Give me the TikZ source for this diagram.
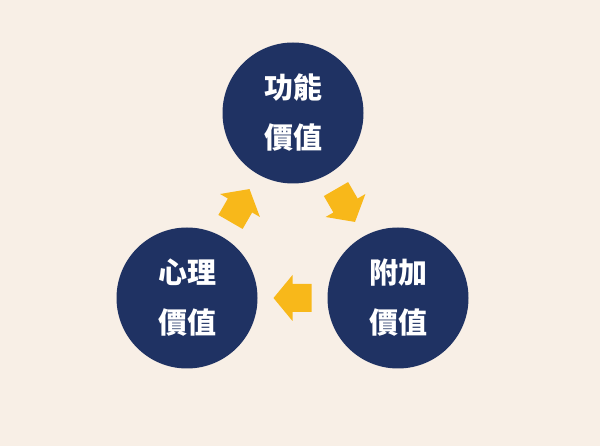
\documentclass[tikz,border=0pt]{standalone}
\usepackage{fontspec}
\newfontfamily\cjk{Noto Sans CJK TC}
\usetikzlibrary{calc}
\definecolor{bgcream}{HTML}{F8EFE6}
\definecolor{navyblue}{HTML}{1F3263}
\definecolor{cycleyellow}{HTML}{F8B81A}
\begin{document}
\begin{tikzpicture}[x=1pt,y=-1pt,
  valuecircle/.style={circle, fill=navyblue, minimum size=141pt, inner sep=0pt,
    text=white, align=center, font=\cjk\bfseries\fontsize{29}{50}\selectfont},
  cyclearrow/.pic={\fill[cycleyellow] (19,0) -- (0,23) -- (0,14) -- (-19,14) -- (-19,-14) -- (0,-14) -- (0,-23) -- cycle;}]
\fill[bgcream] (0,0) rectangle (600,446);
\useasboundingbox (0,0) rectangle (600,446);
\node[valuecircle] (func) at (293,113) {功能\\價值};
\node[valuecircle] (psy) at (187,298) {心理\\價值};
\node[valuecircle] (add) at (398,298) {附加\\價值};
\coordinate (m1) at ($(func)!0.5!(add)$);
\coordinate (m2) at ($(add)!0.5!(psy)$);
\coordinate (m3) at ($(psy)!0.5!(func)$);
\pic[rotate=-60] (a1) at (m1) {cyclearrow};
\pic[rotate=180] (a2) at (m2) {cyclearrow};
\pic[rotate=60] (a3) at (m3) {cyclearrow};
\end{tikzpicture}
\end{document}
